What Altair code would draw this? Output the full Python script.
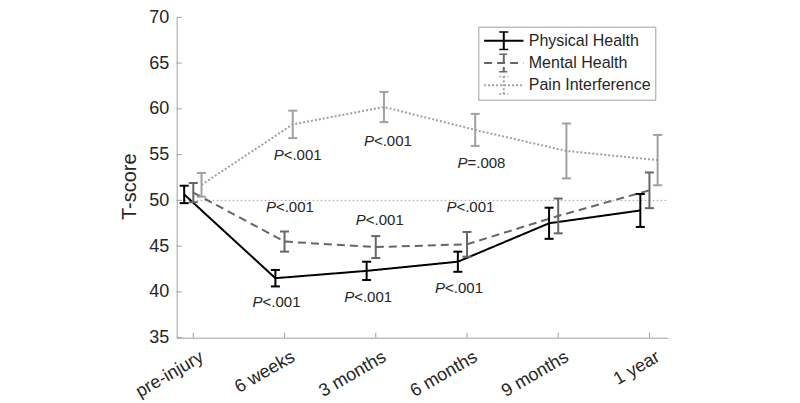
import json
import altair as alt
import pandas as pd

# ---------------- data ----------------
categories = ["pre-injury", "6 weeks", "3 months", "6 months", "9 months", "1 year"]
series = ["Physical Health", "Mental Health", "Pain Interference"]

physical_mean = [50.65, 41.5, 42.3, 43.3, 47.5, 48.9]
physical_err = [0.95, 0.9, 1.0, 1.1, 1.7, 1.8]
mental_mean = [50.85, 45.5, 44.9, 45.2, 48.3, 51.1]
mental_err = [1.05, 1.1, 1.2, 1.35, 1.9, 1.95]
pain_mean = [51.7, 58.3, 60.2, 57.7, 55.4, 54.4]
pain_err = [1.3, 1.5, 1.65, 1.75, 3.0, 2.75]

# significance annotations: category position, T-score position, text after "P"
ann_x = [2.144, 3.133, 4.159, 2.059, 3.045, 4.038, 1.913, 2.917, 3.913]
ann_y = [54.96, 56.52, 54.05, 49.31, 47.86, 49.31, 38.93, 39.41, 40.40]
ann_rest = ["<.001", "<.001", "=.008", "<.001", "<.001", "<.001", "<.001", "<.001", "<.001"]

y_ticks = [35, 40, 45, 50, 55, 60, 65, 70]
reference_level = [50]

# ---------------- styling ----------------
FONT = "Liberation Sans"
TXT = "#262626"
AXIS_GREY = "#a0a0a0"
colors = ["#000000", "#666666", "#a0a0a0"]
dashes = [[1, 0], [8, 5], [2, 2]]
widths = [2, 2, 1.5]
dodge = {"Physical Health": -0.1, "Mental Health": 0.0, "Pain Interference": 0.09}

W, H = 491, 320.4

rows = []
for name, means, errs in [
    ("Physical Health", physical_mean, physical_err),
    ("Mental Health", mental_mean, mental_err),
    ("Pain Interference", pain_mean, pain_err),
]:
    for i, (m, e) in enumerate(zip(means, errs)):
        rows.append({"series": name, "idx": i + 1, "mean": m, "err": e})
df = pd.DataFrame(rows)
df["xpos"] = df["idx"] + df["series"].map(dodge)
df["lo"] = df["mean"] - df["err"]
df["hi"] = df["mean"] + df["err"]

ann = pd.DataFrame({"x": ann_x, "y": ann_y, "rest": ann_rest, "p": ["P"] * len(ann_x)})
ticks_y = pd.DataFrame({"t": y_ticks})
ticks_x = pd.DataFrame({"t": list(range(1, len(categories) + 1))})
ref = pd.DataFrame({"v": reference_level})

xscale = alt.Scale(domain=[0.818, 6.2], nice=False, zero=False)
yscale = alt.Scale(domain=[35, 70], nice=False, zero=False)

label_expr = json.dumps(categories) + "[datum.value - 1]"
xaxis = alt.Axis(
    values=list(range(1, len(categories) + 1)),
    labelExpr=label_expr,
    title=None,
    grid=False,
    ticks=False,
    domainColor=AXIS_GREY,
    labelFont=FONT,
    labelFontSize=18,
    labelColor=TXT,
    labelAngle=-30,
    labelAlign="right",
    labelBaseline="top",
    labelPadding=10,
    labelOffset=4,
)
yaxis = alt.Axis(
    values=y_ticks,
    title="T-score",
    grid=False,
    ticks=False,
    domainColor=AXIS_GREY,
    labelFont=FONT,
    labelFontSize=18,
    labelColor=TXT,
    labelPadding=8,
    titleFont=FONT,
    titleFontSize=20,
    titleFontWeight="normal",
    titleColor=TXT,
    titleAngle=-90,
    titleBaseline="middle",
    titleAlign="center",
    titleX=-47,
    titleY=169,
)

legend_path = "M-1,0H1M0,-0.46V0.46M-0.23,-0.46H0.23M-0.23,0.46H0.23"
legend = alt.Legend(
    title=None,
    orient="none",
    legendX=301.6,
    legendY=9.4,
    padding=4.5,
    strokeColor=AXIS_GREY,
    fillColor="white",
    labelFont=FONT,
    labelFontSize=16,
    labelColor=TXT,
    labelOffset=4,
    symbolType=legend_path,
    symbolSize=1550,
    symbolStrokeWidth=1.8,
    clipHeight=19,
    rowPadding=3.3,
)

color = alt.Color("series:N", scale=alt.Scale(domain=series, range=colors), legend=legend)
dash = alt.StrokeDash("series:N", scale=alt.Scale(domain=series, range=dashes), legend=legend)

base = alt.Chart(df)

lines = base.mark_line().encode(
    x=alt.X("xpos:Q", scale=xscale, axis=xaxis),
    y=alt.Y("mean:Q", scale=yscale, axis=yaxis),
    color=color,
    strokeDash=dash,
    strokeWidth=alt.StrokeWidth("series:N", scale=alt.Scale(domain=series, range=widths), legend=None),
    order="idx:Q",
)

bars = base.mark_rule(strokeWidth=2).encode(
    x=alt.X("xpos:Q", scale=xscale, axis=xaxis),
    y=alt.Y("lo:Q", scale=yscale, axis=yaxis),
    y2="hi:Q",
    color=color,
)
cap_lo = base.mark_tick(orient="horizontal", size=9, thickness=2, opacity=1).encode(
    x=alt.X("xpos:Q", scale=xscale, axis=xaxis),
    y=alt.Y("lo:Q", scale=yscale, axis=yaxis),
    color=color,
)
cap_hi = base.mark_tick(orient="horizontal", size=9, thickness=2, opacity=1).encode(
    x=alt.X("xpos:Q", scale=xscale, axis=xaxis),
    y=alt.Y("hi:Q", scale=yscale, axis=yaxis),
    color=color,
)

refline = alt.Chart(ref).mark_rule(color=AXIS_GREY, strokeWidth=1, strokeDash=[1.5, 2.5]).encode(
    y=alt.Y("v:Q", scale=yscale, axis=yaxis),
    x=alt.value(0),
    x2=alt.value(W),
)

yt = alt.Chart(ticks_y).mark_tick(orient="horizontal", size=5, thickness=1, color=AXIS_GREY, opacity=1).encode(
    y=alt.Y("t:Q", scale=yscale, axis=yaxis),
    x=alt.value(2.5),
)
xt = alt.Chart(ticks_x).mark_tick(orient="vertical", size=5, thickness=1, color=AXIS_GREY, opacity=1).encode(
    x=alt.X("t:Q", scale=xscale, axis=xaxis),
    y=alt.value(H - 2.5),
)

ann_p = alt.Chart(ann).mark_text(
    font=FONT, fontSize=15, fontStyle="italic", color=TXT, align="right", baseline="middle", dx=-14
).encode(
    x=alt.X("x:Q", scale=xscale, axis=xaxis),
    y=alt.Y("y:Q", scale=yscale, axis=yaxis),
    text="p:N",
)
ann_r = alt.Chart(ann).mark_text(
    font=FONT, fontSize=15, color=TXT, align="left", baseline="middle", dx=-14
).encode(
    x=alt.X("x:Q", scale=xscale, axis=xaxis),
    y=alt.Y("y:Q", scale=yscale, axis=yaxis),
    text="rest:N",
)

chart = (
    alt.layer(refline, yt, xt, lines, bars, cap_lo, cap_hi, ann_p, ann_r)
    .properties(
        width=W,
        height=H,
        autosize=alt.AutoSizeParams(type="none"),
        padding={"left": 168.7, "top": 9.3, "right": 10, "bottom": 65},
        background="white",
    )
    .configure_view(stroke=None)
)

chart.save("out.html", embed_options={"renderer": "svg", "actions": False})
